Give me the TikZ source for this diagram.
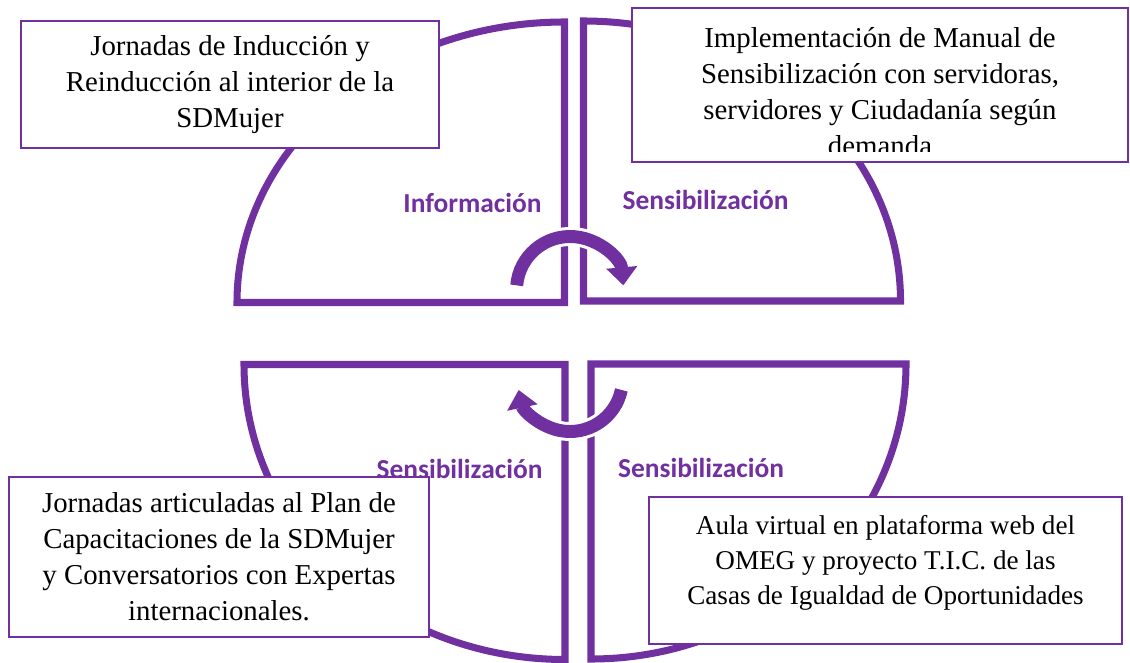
\documentclass[tikz,border=0pt]{standalone}
\usepackage{fontspec}
\setmainfont{Liberation Serif}
\newfontfamily\phasefont{Carlito}
\usepackage{tikz}
\usetikzlibrary{arrows.meta}
\definecolor{cyclepurple}{RGB}{112,48,160}

\begin{document}
\begin{tikzpicture}[x=0.025cm, y=-0.025cm,
    quadrant/.style={draw=cyclepurple, line width=5pt, fill=white},
    phase/.style={font=\phasefont\bfseries\fontsize{19.5}{23}\selectfont, text=cyclepurple,
                  anchor=base, inner sep=0pt},
    halo/.style={draw=white, line width=13.5pt},
    turn/.style={draw=cyclepurple, line width=9.2pt, -{Triangle[length=0.45cm, width=0.75cm]}},
    actbox/.style={rectangle, draw=cyclepurple, line width=1.4pt, fill=white, inner sep=0pt},
    acttext/.style={align=center, font=\fontsize{20.5}{25.6}\selectfont, inner sep=0pt}
]
    \useasboundingbox (0,0) rectangle (1130,663);
    % four quadrants
    \draw[quadrant] (564.5,22) -- (564.5,302.5) -- (237,302.5)
        arc[start angle=180, end angle=270, x radius=327.5, y radius=280.5] -- cycle;
    \draw[quadrant] (583.5,301) -- (583.5,21)
        arc[start angle=270, end angle=360, x radius=317, y radius=280] -- cycle;
    \draw[quadrant] (565,364.5) -- (244,364.5)
        arc[start angle=180, end angle=90, x radius=321, y radius=295] -- cycle;
    \draw[quadrant] (591,364) -- (591,659)
        arc[start angle=90, end angle=0, x radius=315, y radius=295] -- cycle;
    \node[phase] (info) at (472.5,212) {Información};
    \node[phase] (sensTR) at (705.5,209) {Sensibilización};
    \node[phase] (sensBL) at (459.5,478) {Sensibilización};
    \node[phase] (sensBR) at (701,477) {Sensibilización};
    % turning arrows
    \draw[halo] ([shift={(185:53.5)}]570,290) arc[start angle=185, end angle=340, radius=53.5];
    \draw[turn] ([shift={(185:53.5)}]570,290) arc[start angle=185, end angle=355, radius=53.5];
    \draw[halo] ([shift={(12:52.5)}]570,379) arc[start angle=12, end angle=155, radius=52.5];
    \draw[turn] ([shift={(12:52.5)}]570,379) arc[start angle=12, end angle=168, radius=52.5];
    % activity boxes
    \node[actbox, minimum width=10.45cm, minimum height=3.175cm] (induccion) at (230,84.5) {};
    \node[acttext] (induccionTxt) at (induccion.center)
        {Jornadas de Inducción y\\Reinducción al interior de la\\SDMujer};
    \node[actbox, minimum width=12.4cm, minimum height=3.85cm] (manual) at (880,85) {};
    \begin{scope}
        \clip (632,8) rectangle (1128,152);
        \node[acttext] (manualTxt) at (880,92)
            {Implementación de Manual de\\Sensibilización con servidoras,\\servidores y Ciudadanía según\\demanda};
    \end{scope}
    \node[actbox, minimum width=10.5cm, minimum height=4cm] (plan) at (219,557) {};
    \node[acttext] (planTxt) at (plan.center)
        {Jornadas articuladas al Plan de\\Capacitaciones de la SDMujer\\y Conversatorios con Expertas\\internacionales.};
    \node[actbox, minimum width=11.825cm, minimum height=3.675cm] (aula) at (885.5,570.5) {};
    \node[acttext, font=\fontsize{19.3}{24.9}\selectfont] (aulaTxt) at (885.5,563)
        {Aula virtual en plataforma web del\\OMEG y proyecto T.I.C. de las\\Casas de Igualdad de Oportunidades};
\end{tikzpicture}
\end{document}
